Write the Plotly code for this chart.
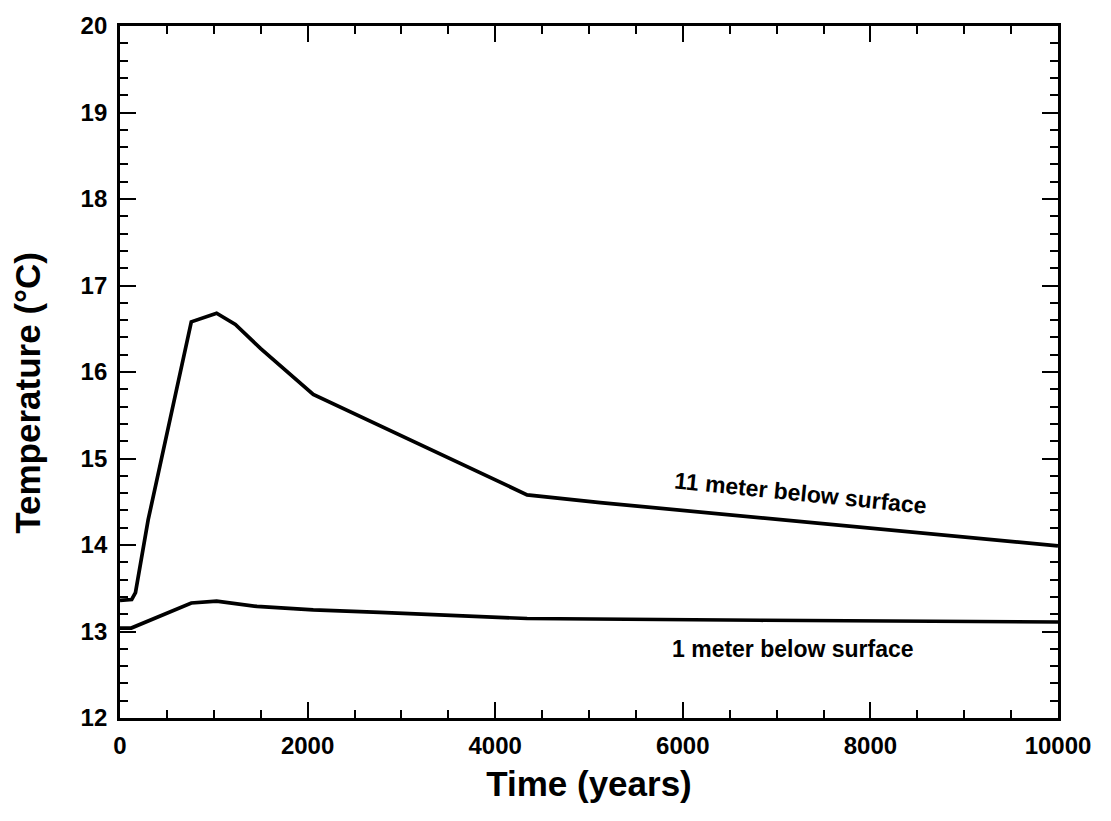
import plotly.graph_objects as go

# Data
time_11m = [0, 125, 165, 300, 760, 1030, 1230, 1500, 2060, 4340, 5120, 9380, 10000]
temp_11m = [13.36, 13.37, 13.45, 14.29, 16.58, 16.68, 16.55, 16.27, 15.74, 14.58, 14.49, 14.05, 13.99]

time_1m = [0, 120, 760, 1030, 1460, 2060, 2770, 4340, 6820, 10000]
temp_1m = [13.04, 13.04, 13.33, 13.35, 13.29, 13.25, 13.22, 13.15, 13.13, 13.11]

x_ticks = [0, 2000, 4000, 6000, 8000, 10000]
y_ticks = [12, 13, 14, 15, 16, 17, 18, 19, 20]

label_11m = "11 meter below surface"
label_1m = "1 meter below surface"
x_title = "Time (years)"
y_title = "Temperature (°C)"

FONT = "Liberation Sans, Arial, Helvetica, sans-serif"

fig = go.Figure()
fig.add_trace(go.Scatter(x=time_11m, y=temp_11m, mode="lines",
                         line=dict(color="black", width=3.7), showlegend=False))
fig.add_trace(go.Scatter(x=time_1m, y=temp_1m, mode="lines",
                         line=dict(color="black", width=3.7), showlegend=False))

fig.add_annotation(x=7250, y=14.60, text=label_11m, showarrow=False, textangle=5.8,
                   font=dict(family=FONT, size=23, color="black", weight="bold"))
fig.add_annotation(x=7175, y=12.80, text=label_1m, showarrow=False,
                   font=dict(family=FONT, size=23, color="black", weight="bold"))

# y-axis title placed as rotated text, slightly below the plot's vertical centre as in the reference
fig.add_annotation(x=0, xref="paper", xanchor="center", xshift=-92,
                   y=0.47, yref="paper", yanchor="middle",
                   text=y_title, textangle=-90, showarrow=False,
                   font=dict(family=FONT, size=35, color="black", weight="bold"))

axis_common = dict(
    showgrid=False, zeroline=False, showline=True, linecolor="black", linewidth=2.8,
    mirror="ticks", ticks="inside", tickcolor="black", tickwidth=1.5, ticklen=16,
    tickfont=dict(family=FONT, size=24, color="black", weight="bold"),
)

fig.update_xaxes(range=[0, 10000], tickvals=x_ticks, ticktext=[str(v) for v in x_ticks],
                 minor=dict(dtick=500, ticks="inside", ticklen=8, tickcolor="black", tickwidth=1.5),
                 ticklabelstandoff=4,
                 title=dict(text=x_title, standoff=14,
                            font=dict(family=FONT, size=35, color="black", weight="bold")),
                 **axis_common)
fig.update_yaxes(range=[12, 20], tickvals=y_ticks, ticktext=[str(v) for v in y_ticks],
                 minor=dict(dtick=0.2, ticks="inside", ticklen=8, tickcolor="black", tickwidth=1.5),
                 ticklabelstandoff=5,
                 **axis_common)

fig.update_layout(
    width=1111, height=821,
    margin=dict(l=120, r=53, t=16, b=103),
    paper_bgcolor="white", plot_bgcolor="white",
    font=dict(family=FONT, color="black"),
)

fig.write_html("out.html")
